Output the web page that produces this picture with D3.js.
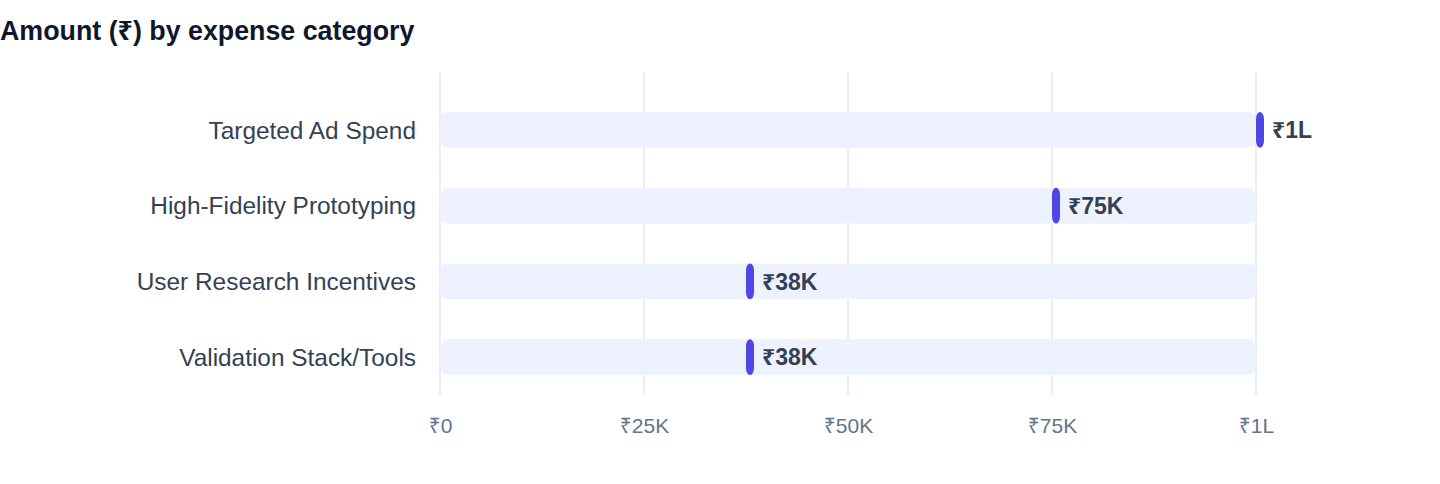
<!DOCTYPE html>
<html>
<head>
<meta charset="utf-8">
<script src="https://cdn.jsdelivr.net/npm/d3@7"></script>
<style>
  body { margin: 0; background: #fff; }
  text { font-family: "Liberation Sans", Arial, "Noto Sans", sans-serif; }
</style>
</head>
<body>
<script>
// chart data
const categories = ["Targeted Ad Spend", "High-Fidelity Prototyping", "User Research Incentives", "Validation Stack/Tools"]
const amounts = [100000, 75000, 37500, 37500]
const tickValues = [0, 25000, 50000, 75000, 100000]
const domainMax = 100000

const width = 1440, height = 484
const margin = {top: 72, right: 184, bottom: 89, left: 440}

// rupee formatter: K for thousands, L for lakhs
function rupee(v) {
  if (v >= 100000) return "₹" + Math.round(v / 100000) + "L"
  if (v >= 1000) return "₹" + Math.round(v / 1000) + "K"
  return "₹" + v
}

let svg = d3.select("body")
  .append("svg")
  .attr("width", width)
  .attr("height", height)

svg.append("text")
  .text("Amount (₹) by expense category")
  .attr("x", 0)
  .attr("y", 40)
  .attr("fill", "#0f172a")
  .style("font-size", "26.8px")
  .style("font-weight", "bold")

const x = d3.scaleLinear()
  .domain([0, domainMax])
  .range([margin.left, width - margin.right])

const y = d3.scaleBand()
  .domain(categories)
  .range([92, height - margin.bottom])
  .paddingInner(0.526)
  .paddingOuter(0.263)

// grid lines
svg.append("g")
  .attr("id", "grid")
  .selectAll("line")
  .data(tickValues)
  .enter()
  .append("line")
  .attr("x1", d => x(d))
  .attr("x2", d => x(d))
  .attr("y1", margin.top)
  .attr("y2", height - margin.bottom)
  .attr("stroke", "#e2e8f0")
  .attr("stroke-width", 1.5)

// x axis labels
const xAxis = svg.append("g")
  .attr("transform", `translate(0, ${height - margin.bottom})`)
  .call(d3.axisBottom(x).tickValues(tickValues).tickFormat(rupee).tickSize(0).tickPadding(23))
xAxis.select(".domain").remove()
xAxis.selectAll("text")
  .attr("fill", "#64748b")
  .style("font-size", "21px")
  .style("font-family", "'Liberation Sans', Arial, 'Noto Sans', sans-serif")

// category labels
const yAxis = svg.append("g")
  .attr("transform", `translate(${margin.left}, 0)`)
  .call(d3.axisLeft(y).tickSize(0).tickPadding(24))
yAxis.select(".domain").remove()
yAxis.selectAll("text")
  .attr("fill", "#334155")
  .attr("dy", "0.36em")
  .style("font-size", "24.4px")
  .style("font-family", "'Liberation Sans', Arial, 'Noto Sans', sans-serif")

const rows = svg.append("g").attr("id", "rows")
  .selectAll("g")
  .data(categories.map((c, i) => ({name: c, value: amounts[i]})))
  .enter()
  .append("g")

// background track
rows.append("rect")
  .attr("x", x(0))
  .attr("y", d => y(d.name))
  .attr("width", x(domainMax) - x(0))
  .attr("height", y.bandwidth())
  .attr("rx", 8)
  .attr("fill", "#eef2ff")

// value marker
rows.append("rect")
  .attr("x", d => x(d.value))
  .attr("y", d => y(d.name))
  .attr("width", 8)
  .attr("height", y.bandwidth())
  .attr("rx", 4)
  .attr("ry", 7)
  .attr("fill", "#4f46e5")

// value label
rows.append("text")
  .text(d => rupee(d.value))
  .attr("x", d => x(d.value) + 16)
  .attr("y", d => y(d.name) + y.bandwidth() / 2)
  .attr("dy", "0.36em")
  .attr("fill", "#334155")
  .style("font-size", "23px")
  .style("font-weight", "bold")
</script>
</body>
</html>
